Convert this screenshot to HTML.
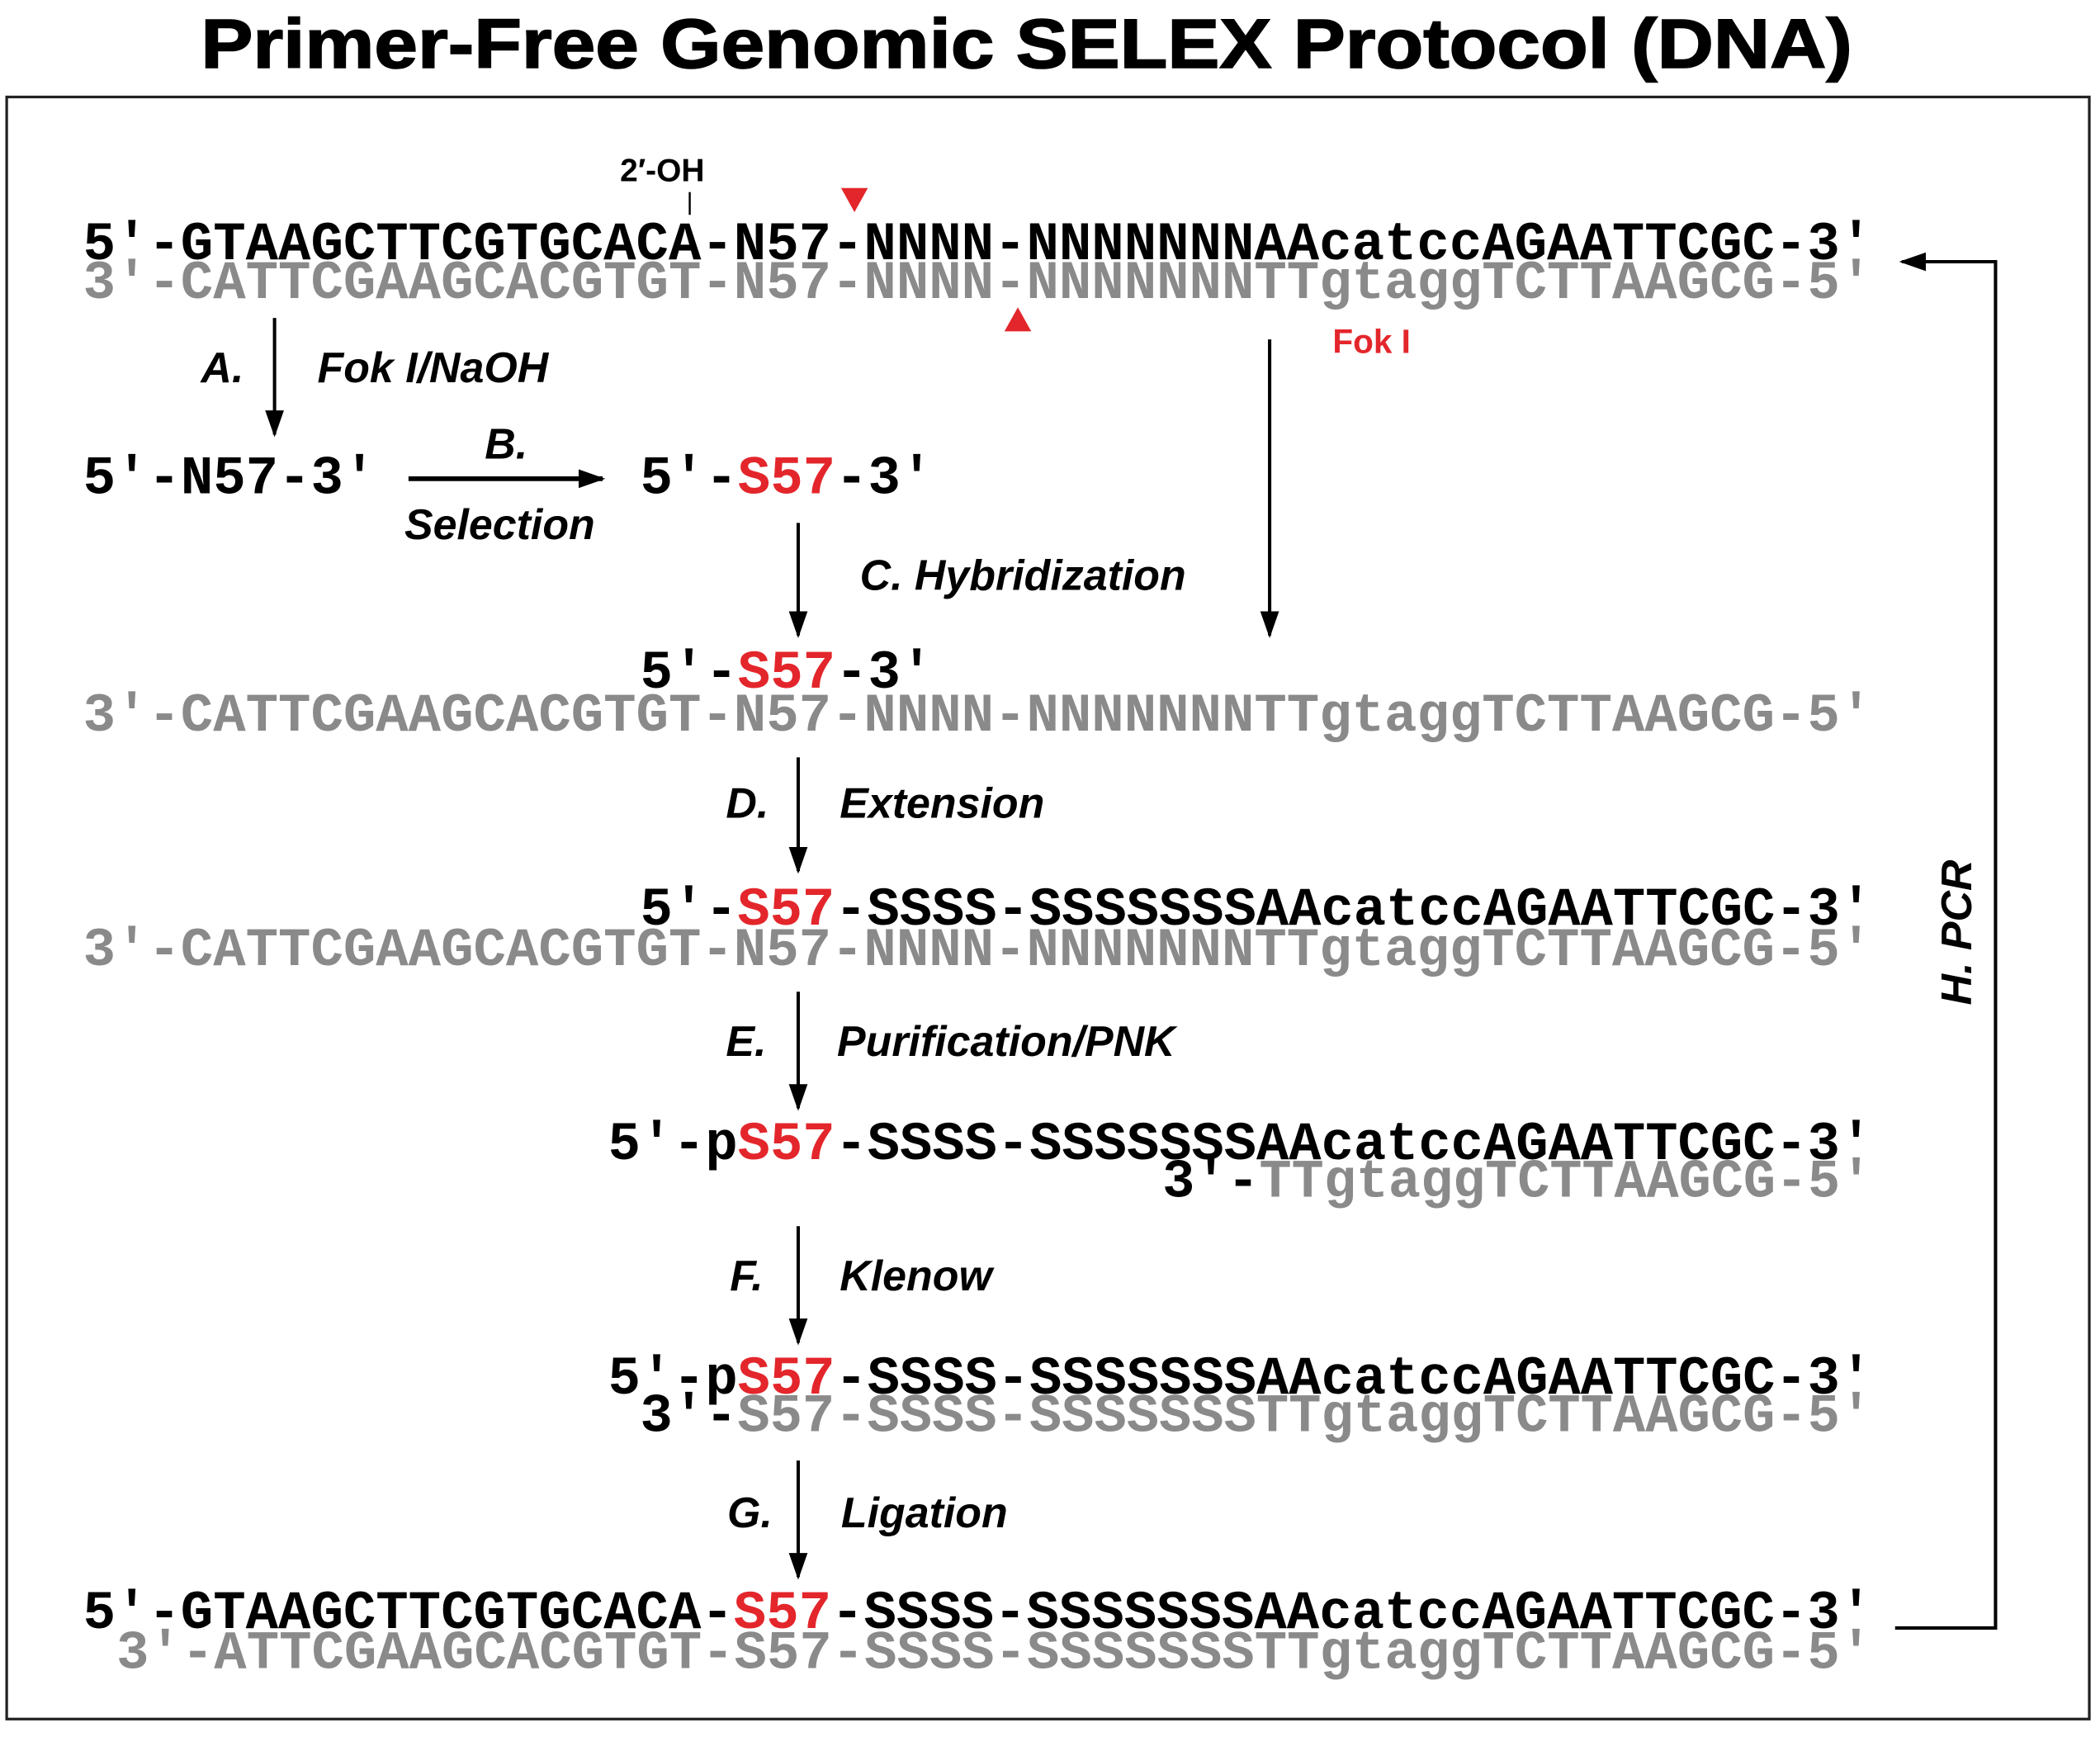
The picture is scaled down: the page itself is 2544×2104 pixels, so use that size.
<!DOCTYPE html>
<html><head><meta charset="utf-8"><style>
html,body{margin:0;padding:0;background:#fff;}
svg{display:block;}
.m{font-family:"Liberation Mono","DejaVu Sans Mono",monospace;font-weight:bold;font-size:40.5px;}
.g{fill:#8a8a8a;}
.r{fill:#e3262b;}
.k{fill:#000;}
.l{font-family:"Liberation Sans",Arial,sans-serif;font-weight:bold;font-style:italic;font-size:32px;}
</style></head><body>
<svg width="2544" height="2104" viewBox="0 0 1568 1296" xmlns="http://www.w3.org/2000/svg">
<defs><marker id="ah" markerWidth="20" markerHeight="14" refX="18" refY="7" orient="auto" markerUnits="userSpaceOnUse" viewBox="0 0 20 14"><path d="M0,0 L20,7 L0,14 z" fill="#000"/></marker></defs>
<text x="150" y="50" textLength="1233" lengthAdjust="spacingAndGlyphs" font-family="Liberation Sans,Arial,sans-serif" font-weight="bold" font-size="52" stroke="#000" stroke-width="1">Primer-Free Genomic SELEX Protocol (DNA)</text>
<rect x="5" y="72" width="1555" height="1211" fill="none" stroke="#222" stroke-width="2"/>

<text x="463" y="135" font-family="Liberation Sans,Arial,sans-serif" font-weight="bold" font-size="24">2′-OH</text>
<line x1="515" y1="143" x2="515" y2="160" stroke="#000" stroke-width="1.5"/>
<path d="M628,140 L648,140 L638,158 z" fill="#e3262b"/>
<path d="M750,247 L770,247 L760,229 z" fill="#e3262b"/>

<text class="m k" x="62" y="193" textLength="1336" lengthAdjust="spacingAndGlyphs">5′-GTAAGCTTCGTGCACA-N57-NNNN-NNNNNNNAAcatccAGAATTCGC-3′</text>
<text class="m g" x="62" y="222" textLength="1336" lengthAdjust="spacingAndGlyphs">3′-CATTCGAAGCACGTGT-N57-NNNN-NNNNNNNTTgtaggTCTTAAGCG-5′</text>
<text x="995" y="263" font-family="Liberation Sans,Arial,sans-serif" font-weight="bold" font-size="25" fill="#e3262b">Fok I</text>

<text class="m k" x="62" y="368">5′-N57-3′</text>
<text class="m" x="478" y="368"><tspan class="k">5′-</tspan><tspan class="r">S57</tspan><tspan class="k">-3′</tspan></text>

<text class="m" x="478" y="513"><tspan class="k">5′-</tspan><tspan class="r">S57</tspan><tspan class="k">-3′</tspan></text>
<text class="m g" x="62" y="545" textLength="1336" lengthAdjust="spacingAndGlyphs">3′-CATTCGAAGCACGTGT-N57-NNNN-NNNNNNNTTgtaggTCTTAAGCG-5′</text>

<text class="m" x="478" y="690" textLength="920" lengthAdjust="spacingAndGlyphs"><tspan class="k">5′-</tspan><tspan class="r">S57</tspan><tspan class="k">-SSSS-SSSSSSSAAcatccAGAATTCGC-3′</tspan></text>
<text class="m g" x="62" y="720" textLength="1336" lengthAdjust="spacingAndGlyphs">3′-CATTCGAAGCACGTGT-N57-NNNN-NNNNNNNTTgtaggTCTTAAGCG-5′</text>

<text class="m" x="454" y="865" textLength="944" lengthAdjust="spacingAndGlyphs"><tspan class="k">5′-p</tspan><tspan class="r">S57</tspan><tspan class="k">-SSSS-SSSSSSSAAcatccAGAATTCGC-3′</tspan></text>
<text class="m" x="868" y="893" textLength="530" lengthAdjust="spacingAndGlyphs"><tspan class="k">3′-</tspan><tspan class="g">TTgtaggTCTTAAGCG-5′</tspan></text>

<text class="m" x="454" y="1040" textLength="944" lengthAdjust="spacingAndGlyphs"><tspan class="k">5′-p</tspan><tspan class="r">S57</tspan><tspan class="k">-SSSS-SSSSSSSAAcatccAGAATTCGC-3′</tspan></text>
<text class="m" x="478" y="1068" textLength="920" lengthAdjust="spacingAndGlyphs"><tspan class="k">3′-</tspan><tspan class="g">S57-SSSS-SSSSSSSTTgtaggTCTTAAGCG-5′</tspan></text>

<text class="m" x="62" y="1215" textLength="1336" lengthAdjust="spacingAndGlyphs"><tspan class="k">5′-GTAAGCTTCGTGCACA-</tspan><tspan class="r">S57</tspan><tspan class="k">-SSSS-SSSSSSSAAcatccAGAATTCGC-3′</tspan></text>
<text class="m g" x="87" y="1245" textLength="1311" lengthAdjust="spacingAndGlyphs">3′-ATTCGAAGCACGTGT-S57-SSSS-SSSSSSSTTgtaggTCTTAAGCG-5′</text>

<g stroke="#000" stroke-width="2.5" fill="none">
<line x1="205" y1="237" x2="205" y2="324" marker-end="url(#ah)"/>
<line x1="305" y1="357" x2="450" y2="357" stroke-width="3.5" marker-end="url(#ah)"/>
<line x1="596" y1="390" x2="596" y2="474" marker-end="url(#ah)"/>
<line x1="948" y1="253" x2="948" y2="474" marker-end="url(#ah)"/>
<line x1="596" y1="565" x2="596" y2="650" marker-end="url(#ah)"/>
<line x1="596" y1="740" x2="596" y2="827" marker-end="url(#ah)"/>
<line x1="596" y1="915" x2="596" y2="1002" marker-end="url(#ah)"/>
<line x1="596" y1="1090" x2="596" y2="1177" marker-end="url(#ah)"/>
<polyline points="1415,1215 1490,1215 1490,195 1420,195" marker-end="url(#ah)"/>
</g>

<text class="l" x="150" y="285">A.</text>
<text class="l" x="237" y="285">Fok I/NaOH</text>
<text class="l" x="362" y="342">B.</text>
<text class="l" x="302" y="402">Selection</text>
<text class="l" x="642" y="440">C. Hybridization</text>
<text class="l" x="542" y="610">D.</text>
<text class="l" x="627" y="610">Extension</text>
<text class="l" x="542" y="788">E.</text>
<text class="l" x="625" y="788">Purification/PNK</text>
<text class="l" x="545" y="963">F.</text>
<text class="l" x="627" y="963">Klenow</text>
<text class="l" x="543" y="1140">G.</text>
<text class="l" x="628" y="1140">Ligation</text>
<text class="l" transform="translate(1472,750) rotate(-90)">H. PCR</text>
</svg>
</body></html>
